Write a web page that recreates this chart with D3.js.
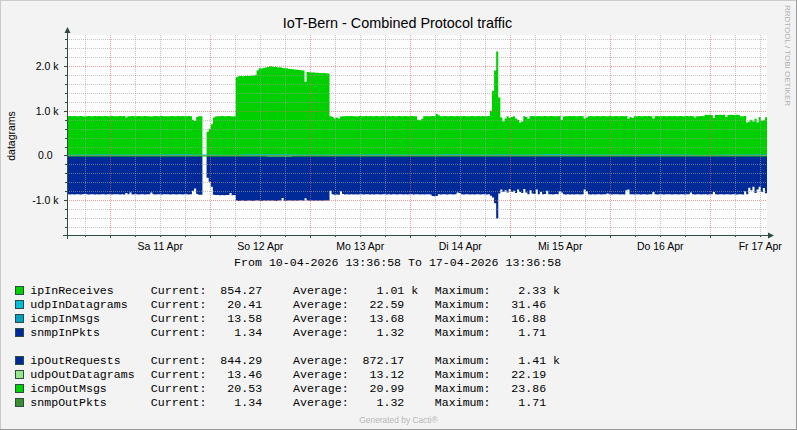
<!DOCTYPE html>
<html><head><meta charset="utf-8">
<script src="https://cdn.jsdelivr.net/npm/d3@7"></script>
<style>
body{margin:0;background:#F3F3F3}
svg{display:block}
.mono{font-family:"Liberation Mono","Courier New",monospace;font-size:11.6px;white-space:pre;fill:#000}
.sans{font-family:"Liberation Sans",Arial,sans-serif;fill:#000}
</style>
</head><body>
<svg id="c" width="797" height="430"></svg>
<script>
// ---------- DATA ----------
const title = "IoT-Bern - Combined Protocol traffic";
const yAxisLabel = "datagrams";
const startTime = "2026-04-10T13:36:58Z";
const endTime   = "2026-04-17T13:36:58Z";
const stepMinutes = 30;        // main series resolution
const smallStepHours = 6;      // small series resolution

const ipInReceives = [
880,885,878,882,880,876,884,880,872,880,886,880,878,882,880,884,876,880,882,880,878,885,880,876,
880,882,878,884,850,878,880,884,876,880,882,878,880,885,880,876,870,880,882,880,878,884,880,880,
880,878,884,880,876,882,880,884,878,880,882,876,800,770,860,880,880,880,null,530,600,700,850,870,
880,876,884,880,878,882,880,870,880,1750,1775,1780,1775,1780,1785,1780,1790,1785,1800,1900,1950,1945,1960,1970,
1980,2000,1990,1980,1985,1970,1975,1960,1950,1955,1940,1935,1930,1925,1920,1915,1910,1900,1650,1870,1865,1860,1855,1850,
1850,1845,1840,1845,1840,1835,880,860,830,850,830,870,880,876,884,880,882,878,880,875,884,880,878,882,
880,884,878,880,886,880,876,882,880,878,884,880,882,876,880,885,880,878,882,880,876,884,880,878,
800,790,820,880,882,878,880,884,880,930,900,880,878,882,880,876,884,880,878,882,880,876,884,880,
880,876,884,880,878,882,880,884,876,880,882,1000,1450,1900,2330,1300,850,760,830,880,840,860,880,830,
800,740,760,880,860,820,880,884,880,878,882,880,876,884,880,878,882,880,880,876,884,800,870,880,
880,884,878,882,880,876,884,880,830,850,880,882,878,880,884,876,880,882,878,880,884,880,876,882,
880,878,884,880,882,820,860,840,880,876,884,880,878,882,880,884,876,830,880,882,878,880,884,880,
880,884,878,882,880,876,884,880,878,882,880,884,880,850,880,876,884,880,910,905,912,908,840,910,
908,912,906,910,860,905,912,908,904,910,906,880,878,882,740,760,800,760,820,740,860,780,790,854,
854];

const ipOutRequests = [
870,875,868,872,870,866,874,870,862,870,876,870,868,872,870,874,866,870,872,870,868,875,870,866,
870,872,868,874,840,868,830,874,866,870,872,868,870,875,870,866,830,870,872,870,868,874,870,870,
870,874,866,870,872,868,870,875,870,866,872,870,790,740,860,880,880,880,null,500,590,700,880,885,
885,888,884,890,886,884,840,888,886,1010,1020,1015,1010,1018,1012,1008,1015,1020,1010,1005,1012,1018,1010,1015,
1010,1015,1005,1012,1018,1010,1008,950,1012,1015,1010,1005,1012,1008,1015,1010,1000,1012,960,1010,1015,1008,1012,1010,
1012,1008,1015,1010,1005,1010,790,870,880,875,880,800,860,875,870,874,868,872,870,876,870,868,872,870,
870,874,866,872,870,868,876,870,866,872,870,874,868,870,876,870,866,872,870,874,868,870,872,870,
870,872,868,874,870,866,872,905,912,908,870,874,868,870,876,870,866,872,870,830,840,870,872,870,
870,874,866,872,870,868,876,870,866,872,870,900,940,1070,1410,850,760,820,780,830,750,820,790,840,
760,820,840,750,830,870,780,850,860,760,870,820,870,860,790,870,866,872,860,870,800,830,870,872,
870,874,866,872,870,868,872,870,760,800,870,874,868,872,870,866,874,870,868,850,870,872,870,866,
870,872,868,874,780,760,870,866,872,870,868,874,870,866,872,870,868,820,870,874,868,870,872,870,
870,866,872,870,868,874,870,866,872,870,868,830,870,874,868,870,872,866,870,874,868,870,820,870,
872,868,870,874,866,870,872,870,868,874,870,866,872,800,870,720,780,700,840,760,700,820,730,844,
844];

const udpInDatagrams  = [22,24,20,23,27,21,19,25,30,22,20,24,28,23,21,26,22,20,24,31,23,21,22,25,20,19,23,21,20];
const icmpInMsgs      = [13.5,13.8,13.6,13.7,14.2,13.4,13.6,13.9,16.9,13.5,13.6,13.7,13.8,13.4,13.6,13.7,13.5,13.9,13.6,13.8,13.7,13.5,13.6,13.8,13.7,13.6,13.5,13.7,13.6];
const snmpInPkts      = [1.3,1.3,1.4,1.3,1.3,1.3,1.4,1.3,1.7,1.3,1.3,1.3,1.4,1.3,1.3,1.3,1.3,1.4,1.3,1.3,1.3,1.3,1.4,1.3,1.3,1.3,1.3,1.3,1.3];
const udpOutDatagrams = [13.1,13.4,12.8,13.0,13.5,12.9,13.2,14.1,22.2,13.0,12.8,13.3,13.1,12.9,13.2,13.4,13.0,12.8,13.1,13.3,13.2,12.9,13.1,13.0,13.2,13.1,12.9,13.3,13.5];
const icmpOutMsgs     = [21.0,20.8,21.2,20.9,21.5,20.7,21.1,21.3,23.9,20.9,21.0,20.8,21.2,21.0,20.9,21.1,20.8,21.0,21.2,20.9,21.1,21.0,20.8,21.2,20.9,21.0,21.1,20.9,20.5];
const snmpOutPkts     = [1.3,1.3,1.4,1.3,1.3,1.3,1.4,1.3,1.7,1.3,1.3,1.3,1.4,1.3,1.3,1.3,1.3,1.4,1.3,1.3,1.3,1.3,1.4,1.3,1.3,1.3,1.3,1.3,1.3];

const yTicks = [-1000, 0, 1000, 2000];
const yTickLabels = ["-1.0 k", "0.0\u00A0\u00A0", "1.0 k", "2.0 k"];
const dayLabels = ["Sa 11 Apr","So 12 Apr","Mo 13 Apr","Di 14 Apr","Mi 15 Apr","Do 16 Apr","Fr 17 Apr"];
const rangeText = "From 10-04-2026 13:36:58 To 17-04-2026 13:36:58";

const legendNames   = ["ipInReceives","udpInDatagrams","icmpInMsgs","snmpInPkts","ipOutRequests","udpOutDatagrams","icmpOutMsgs","snmpOutPkts"];
const legendColors  = ["#00CF00","#00BED9","#00A0C1","#002A97","#002A97","#96E78A","#00CF00","#3A8F2E"];
const currentValues = [854.27,20.41,13.58,1.34,844.29,13.46,20.53,1.34];
const currentUnits  = ["","","","","","","",""];
const averageValues = [1.01,22.59,13.68,1.32,872.17,13.12,20.99,1.32];
const averageUnits  = ["k","","","","","","",""];
const maximumValues = [2.33,31.46,16.88,1.71,1.41,22.19,23.86,1.71];
const maximumUnits  = ["k","","","","k","","",""];

// ---------- DRAW ----------
const W = 797, H = 430;
const PL = 67, PR = 767, PT = 35, PB = 235;
const svg = d3.select("#c");
const t0 = new Date(startTime), t1 = new Date(endTime);

const x = d3.scaleUtc().domain([t0, t1]).range([PL, PR]);
const y = d3.scaleLinear().domain([-1780, 2697]).range([PB, PT]);

// background + shade border
svg.append("rect").attr("width", W).attr("height", H).attr("fill", "#F3F3F3");
svg.append("line").attr("x1",0).attr("y1",0.5).attr("x2",W).attr("y2",0.5).attr("stroke","#CBCBCB");
svg.append("line").attr("x1",0.5).attr("y1",0).attr("x2",0.5).attr("y2",H).attr("stroke","#CBCBCB");
svg.append("line").attr("x1",0).attr("y1",H-0.5).attr("x2",W).attr("y2",H-0.5).attr("stroke","#999999");
svg.append("line").attr("x1",W-0.5).attr("y1",0).attr("x2",W-0.5).attr("y2",H).attr("stroke","#999999");

// canvas
svg.append("rect").attr("x", PL).attr("y", PT).attr("width", PR-PL).attr("height", PB-PT).attr("fill", "#FDFDFD");
svg.append("defs").append("clipPath").attr("id","clip")
  .append("rect").attr("x", PL).attr("y", PT).attr("width", PR-PL).attr("height", PB-PT);

const mainSeries = (arr, sign) => arr.map((v, j) => ({t: d3.utcMinute.offset(t0, j*stepMinutes), v: v == null ? null : sign*v}));
const smallSeries = (arr, sign) => arr.map((v, k) => ({t: d3.utcHour.offset(t0, k*smallStepHours), v: sign*v}));

const area = d3.area()
  .defined(d => d.v != null)
  .x(d => x(d.t)).y0(y(0)).y1(d => y(d.v))
  .curve(d3.curveStepAfter);

const gData = svg.append("g").attr("clip-path", "url(#clip)");
const layers = [
  [mainSeries(ipInReceives, 1), legendColors[0]],
  [smallSeries(udpInDatagrams, 1), legendColors[1]],
  [smallSeries(icmpInMsgs, 1), legendColors[2]],
  [smallSeries(snmpInPkts, 1), legendColors[3]],
  [mainSeries(ipOutRequests, -1), legendColors[4]],
  [smallSeries(udpOutDatagrams, -1), legendColors[5]],
  [smallSeries(icmpOutMsgs, -1), legendColors[6]],
  [smallSeries(snmpOutPkts, -1), legendColors[7]],
];
layers.forEach(([d, c]) => gData.append("path").datum(d).attr("d", area).attr("fill", c));

// grid
const gGrid = svg.append("g").attr("shape-rendering", "crispEdges");
const vTimes = d3.utcHour.every(6).range(t0, t1);
vTimes.forEach(t => {
  const major = t.getUTCHours() === 0;
  const xx = Math.round(x(t)) + 0.5;
  gGrid.append("line").attr("x1", xx).attr("x2", xx).attr("y1", PT).attr("y2", PB)
    .attr("stroke", major ? "#E86060" : "#A0A0A0").attr("stroke-opacity", major ? 0.6 : 0.6)
    .attr("stroke-dasharray", "1,1");
});
const hVals = d3.range(-1600, 2700, 200);
hVals.forEach(v => {
  const major = v % 1000 === 0;
  const yy = Math.round(y(v)) + 0.5;
  gGrid.append("line").attr("x1", PL).attr("x2", PR).attr("y1", yy).attr("y2", yy)
    .attr("stroke", major ? "#E86060" : "#A0A0A0").attr("stroke-opacity", 0.6)
    .attr("stroke-dasharray", "1,1");
});

// axes
const axisColor = "#2C4D43";
const gAx = svg.append("g").attr("shape-rendering", "crispEdges");
gAx.append("line").attr("x1", PL+0.5).attr("x2", PL+0.5).attr("y1", PB+4).attr("y2", 31).attr("stroke", axisColor);
gAx.append("line").attr("x1", PL-4).attr("x2", PR+4).attr("y1", PB+0.5).attr("y2", PB+0.5).attr("stroke", axisColor);
vTimes.forEach(t => {
  const major = t.getUTCHours() === 0;
  const xx = Math.round(x(t)) + 0.5;
  gAx.append("line").attr("x1", xx).attr("x2", xx).attr("y1", PB).attr("y2", PB + (major ? 3 : 2)).attr("stroke", axisColor);
});
hVals.forEach(v => {
  const major = v % 1000 === 0;
  const yy = Math.round(y(v)) + 0.5;
  gAx.append("line").attr("x1", PL - (major ? 3 : 2)).attr("x2", PL).attr("y1", yy).attr("y2", yy).attr("stroke", axisColor);
});
// arrows
svg.append("path").attr("d", `M${PL+0.5},27 L${PL-2.5},33 L${PL+3.5},33 Z`).attr("fill", axisColor);
svg.append("path").attr("d", `M${PR+7},${PB+0.5} L${PR+1},${PB-2.5} L${PR+1},${PB+3.5} Z`).attr("fill", axisColor);

// y tick labels
yTicks.forEach((v, i) => {
  svg.append("text").attr("class", "sans").attr("x", 58.5).attr("y", y(v) + 4)
    .attr("text-anchor", "end").attr("font-size", "10.5px").style("white-space", "pre")
    .text(yTickLabels[i]);
});
// x labels at noon of each day
const firstNoon = d3.utcHour.offset(d3.utcDay.ceil(t0), 12);
dayLabels.forEach((lab, i) => {
  const t = d3.utcDay.offset(firstNoon, i);
  svg.append("text").attr("class", "sans").attr("x", x(t)).attr("y", 249.5)
    .attr("text-anchor", "middle").attr("font-size", "10.5px").text(lab);
});

// title
svg.append("text").attr("class", "sans").attr("x", 397.5).attr("y", 28)
  .attr("text-anchor", "middle").attr("font-size", "14.4px").text(title);
// y label
svg.append("text").attr("class", "sans").attr("transform", "translate(14.5,136) rotate(-90)")
  .attr("text-anchor", "middle").attr("font-size", "10.5px").text(yAxisLabel);
// rrdtool vertical credit
svg.append("text").attr("class", "sans").attr("transform", "translate(785,5) rotate(90)")
  .attr("font-size", "8px").style("fill", "#B0B0B0").text("RRDTOOL / TOBI OETIKER");
// range text
svg.append("text").attr("class", "mono").attr("x", 397.6).attr("y", 266)
  .attr("text-anchor", "middle").text(rangeText);

// legend
const f2 = d3.format(".2f");
const pad = (s, n) => s.padStart(n, " ");
legendNames.forEach((name, i) => {
  const cy = (i < 4 ? 290.7 + 14*i : 360.7 + 14*(i-4));
  svg.append("rect").attr("x", 15.5).attr("y", cy - 4.2).attr("width", 8).attr("height", 8)
    .attr("fill", legendColors[i]).attr("stroke", axisColor).attr("stroke-width", 1);
  const by = cy + 3.7;
  svg.append("text").attr("class", "mono").attr("x", 30.3).attr("y", by).text(name);
  svg.append("text").attr("class", "mono").attr("x", 150.8).attr("y", by)
    .text("Current:" + pad(f2(currentValues[i]), 8) + " " + currentUnits[i]);
  svg.append("text").attr("class", "mono").attr("x", 293).attr("y", by)
    .text("Average:" + pad(f2(averageValues[i]), 8) + " " + averageUnits[i]);
  svg.append("text").attr("class", "mono").attr("x", 434.8).attr("y", by)
    .text("Maximum:" + pad(f2(maximumValues[i]), 8) + " " + maximumUnits[i]);
});

// watermark
svg.append("text").attr("class", "sans").attr("x", 398.5).attr("y", 422.5)
  .attr("text-anchor", "middle").attr("font-size", "8.4px").style("fill", "#B8B8B8")
  .text("Generated by Cacti\u00AE");
</script>
</body></html>
